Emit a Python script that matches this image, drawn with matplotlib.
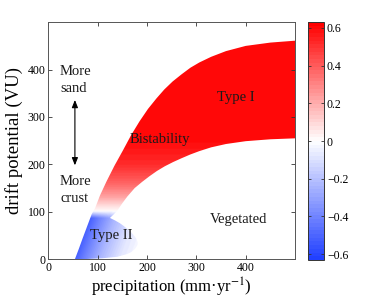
import numpy as np
import matplotlib
matplotlib.use("Agg")
import matplotlib.pyplot as plt
from matplotlib.colors import LinearSegmentedColormap, Normalize
from matplotlib.patches import Polygon
from matplotlib.cm import ScalarMappable

# ---- data ----
# upper/left boundary of the bistability band (precipitation, drift potential)
upper_p = [54, 62, 70, 79, 88, 95, 105, 118, 134, 151, 168, 185, 202, 219,
           235, 252, 270, 288, 306, 330, 360, 400, 450, 500]
upper_dp = [0, 22, 45, 70, 95, 108, 135, 164, 197, 229, 262, 291, 317, 339,
            358, 375, 390, 404, 415, 427, 439, 450, 457, 461]
# lower boundary of the bistability band
lower_p = [125, 133, 141, 150, 160, 175, 190, 205, 220, 236, 253, 270, 288,
           306, 330, 360, 400, 450, 500]
lower_dp = [87, 95, 104, 118, 132, 150, 163, 175, 186, 196, 205, 213, 221,
            228, 236, 243, 249, 253, 255]
# Type II lobe outline (from the band corner round the tip back to the origin side)
t2_p = [125, 135, 145, 153, 160, 167, 172, 176, 179, 181, 181, 178, 174, 168,
        160, 150, 140, 130, 120, 110, 90, 70, 54]
t2_dp = [87, 82, 76, 70, 64, 58, 52, 47, 42, 36, 31, 25, 20, 15,
         11, 8, 5, 4, 3, 2, 1, 0, 0]
# colour value anchors: band (vs drift potential), Type II (vs distance from left edge)
red_dp = [100, 112, 130, 160, 200, 250]
red_val = [0.0, 0.08, 0.22, 0.38, 0.52, 0.60]
blue_dist = [0, 20, 50, 90, 130]
blue_val = [-0.52, -0.40, -0.24, -0.08, 0.0]
blue_fade_dp = [0, 86, 101]
blue_fade = [1.0, 1.0, 0.0]

xticks = [0, 100, 200, 300, 400]
yticks = [0, 100, 200, 300, 400]
cticks = [-0.6, -0.4, -0.2, 0, 0.2, 0.4, 0.6]
clabels = ["\u22120.6", "\u22120.4", "\u22120.2", "0", "0.2", "0.4", "0.6"]

plt.rcParams['font.family'] = ['Liberation Serif', 'DejaVu Serif']
plt.rcParams['mathtext.fontset'] = 'stix'

fig = plt.figure(figsize=(3.74, 3.0), dpi=100)
ax = fig.add_axes([0.129, 0.136, 0.660, 0.790])
cax = fig.add_axes([0.823, 0.133, 0.0436, 0.794])

cmap = LinearSegmentedColormap.from_list(
    'bwr2', [(0.13, 0.25, 1.0), (1, 1, 1), (1, 0, 0)], N=64)
norm = Normalize(vmin=-0.632, vmax=0.632)

# colour field
gx = np.linspace(0, 500, 501)
gy = np.linspace(0, 500, 501)
X, Y = np.meshgrid(gx, gy)
xl = np.interp(Y, upper_dp, upper_p)
red = np.interp(Y, red_dp, red_val, left=0.0, right=red_val[-1])
blue = np.interp(np.clip(X - xl, 0, None), blue_dist, blue_val) * \
    np.interp(Y, blue_fade_dp, blue_fade)
V = red + blue

poly_x = list(upper_p) + list(lower_p[::-1]) + list(t2_p[1:])
poly_y = list(upper_dp) + list(lower_dp[::-1]) + list(t2_dp[1:])
patch = Polygon(np.column_stack([poly_x, poly_y]), closed=True,
                facecolor='none', edgecolor='none', transform=ax.transData)
ax.add_patch(patch)
im = ax.imshow(V, origin='lower', extent=[0, 500, 0, 500], cmap=cmap,
               norm=norm, interpolation='bilinear', aspect='auto')
im.set_clip_path(patch)

ax.set_xlim(0, 500)
ax.set_ylim(0, 500)
ax.set_xticks(xticks)
ax.set_yticks(yticks)
ax.tick_params(direction='in', top=True, right=True, labelsize=8.5,
               length=3, width=0.6, colors='#333333', labelcolor='black', pad=2)
for s in ax.spines.values():
    s.set_linewidth(0.7)
    s.set_color('#555555')
ax.set_xlabel('precipitation (mm\u00b7yr$^{-1}$)', fontsize=12, labelpad=1)
ax.set_ylabel('drift potential (VU)', fontsize=13.5, labelpad=3)

tc = '#1a1a1a'
ax.text(24, 397, 'More', fontsize=10.5, va='center', ha='left', color=tc)
ax.text(24, 361, 'sand', fontsize=10.5, va='center', ha='left', color=tc)
ax.text(24, 163, 'More', fontsize=10.5, va='center', ha='left', color=tc)
ax.text(24, 128, 'crust', fontsize=10.5, va='center', ha='left', color=tc)
ax.annotate('', xy=(54, 198), xytext=(54, 336),
            arrowprops=dict(arrowstyle='<|-|>,head_length=0.45,head_width=0.18',
                            lw=0.8, color='black', shrinkA=0, shrinkB=0))
ax.text(226, 252, 'Bistability', fontsize=10.5, ha='center', va='center', color=tc)
ax.text(380, 341, 'Type I', fontsize=10.5, ha='center', va='center', color=tc)
ax.text(128, 49, 'Type II', fontsize=10.5, ha='center', va='center', color=tc)
ax.text(385, 83, 'Vegetated', fontsize=10.5, ha='center', va='center', color=tc)

cb = fig.colorbar(ScalarMappable(norm=norm, cmap=cmap), cax=cax, ticks=cticks)
cb.ax.set_yticklabels(clabels)
cb.ax.tick_params(direction='in', left=True, right=True, labelsize=8.5,
                  length=2.5, width=0.6, colors='#333333', labelcolor='black', pad=2)
cb.outline.set_linewidth(0.7)
cb.outline.set_edgecolor('#333333')

fig.savefig('out.png', dpi=100)
